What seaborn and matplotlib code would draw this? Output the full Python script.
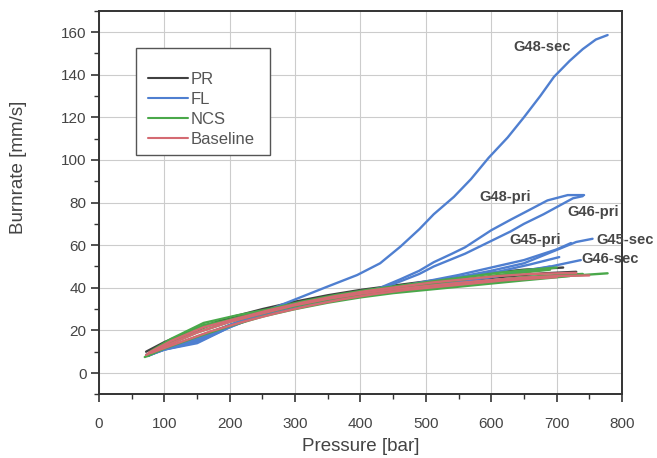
import numpy as np
import pandas as pd
import matplotlib
matplotlib.use("Agg")
import matplotlib.pyplot as plt
from matplotlib.patches import Rectangle
from matplotlib.ticker import MultipleLocator
import seaborn as sns

# ---- data: burn rate [mm/s] versus chamber pressure [bar] ----
groups = ["PR", "FL", "NCS", "Baseline"]
colors = {"PR": "#404040", "FL": "#4f7fd0", "NCS": "#4aa84a", "Baseline": "#d46a72"}

# PR runs
pr_a_p = [72, 100, 150, 200, 250, 300, 350, 400, 450, 500, 550, 600, 650, 710]
pr_a_r = [10, 14.5, 21, 26, 30, 33.5, 36.5, 39, 41, 43, 45, 47, 48.5, 49.5]
pr_b_p = [75, 100, 150, 200, 250, 300, 350, 400, 450, 500, 550, 600, 650, 690]
pr_b_r = [8, 11.5, 17, 22.5, 27, 30.5, 33.5, 36, 38, 40, 41.5, 43, 44.5, 45.5]
pr_c_p = [80, 120, 170, 220, 270, 320, 380, 440, 500, 560, 620, 680, 730]
pr_c_r = [10.5, 16.5, 22.5, 26.5, 30.5, 34, 37, 39.5, 41.8, 43.5, 45.2, 46.8, 47.5]

# FL runs
g48_sec_p = [72, 100, 130, 150, 180, 200, 250, 298, 349, 395, 430, 461, 490, 512, 543,
             569, 596, 625, 650, 675, 696, 720, 740, 760, 778]
g48_sec_r = [8, 11, 13.5, 15, 19, 22, 28.5, 34.3, 40.5, 46, 51.5, 59.3, 67.5, 74.5, 82.7,
             91, 101, 110.5, 120, 130, 139, 146.5, 152, 156.5, 158.6]
g48_pri_p = [72, 100, 150, 200, 250, 300, 350, 400, 430, 461, 490, 512, 540, 560, 600,
             630, 655, 686, 717, 742]
g48_pri_r = [8.5, 11.5, 15.5, 22.5, 28, 31.5, 34.5, 37.5, 40, 44, 48, 52, 56, 59, 67,
             72, 76, 81, 83.5, 83.5]
g46_pri_p = [74, 100, 150, 200, 250, 300, 350, 400, 430, 461, 490, 512, 540, 560, 600,
             630, 650, 680, 707, 725, 740]
g46_pri_r = [8, 11, 14, 21.5, 27.5, 31, 34, 37, 39.5, 43, 46.5, 50, 53.5, 56, 62,
             66.5, 70, 74.5, 79, 82, 83]
g45_pri_p = [75, 100, 150, 200, 250, 300, 350, 400, 450, 500, 550, 600, 650, 700, 722]
g45_pri_r = [8.5, 11.5, 15.5, 22, 28, 31.8, 35, 37.5, 40, 43, 46, 49.5, 53, 58, 61]
g45_sec_p = [73, 100, 150, 200, 250, 300, 350, 400, 450, 500, 550, 600, 650, 706, 730, 755]
g45_sec_r = [8, 11, 14.5, 21.5, 27.5, 31.5, 34.8, 37.5, 39.8, 42, 45, 48, 51.5, 58.5, 61.5, 63]
g46_sec_p = [76, 100, 150, 200, 250, 300, 350, 400, 450, 500, 550, 600, 650, 691, 737]
g46_sec_r = [9, 12, 16, 22.5, 28, 31.5, 34.5, 37, 39, 41, 43, 45, 47.5, 50, 53]
fl_g_p = [78, 110, 160, 210, 260, 310, 360, 410, 460, 510, 560, 610, 660, 704]
fl_g_r = [9, 12.5, 16.5, 23, 28.5, 32, 35, 37.5, 40, 42.5, 45, 47.5, 51, 54.4]
fl_h_p = [80, 110, 160, 210, 260, 310, 360, 410, 460, 510, 560, 610, 650, 690]
fl_h_r = [9.5, 12.5, 17.5, 23.5, 28.5, 32, 35, 37.5, 39.5, 41.5, 43.5, 45.5, 48, 50]

# NCS runs
ncs_a_p = [73, 100, 150, 200, 250, 300, 350, 400, 450, 500, 550, 600, 650, 700, 740, 778]
ncs_a_r = [8.5, 13, 20.5, 25, 28.5, 31.5, 34.5, 36.5, 38.5, 40, 41.5, 43, 44.3, 45.3, 46, 46.8]
ncs_b_p = [78, 110, 160, 210, 260, 310, 360, 410, 460, 510, 560, 610, 660, 700]
ncs_b_r = [10, 16, 23.5, 27, 30, 33.5, 36.5, 39, 41, 43, 45, 47, 48.5, 49.5]
ncs_c_p = [70, 100, 150, 200, 250, 300, 350, 400, 450, 500, 550, 600, 650, 720]
ncs_c_r = [7.5, 11.5, 17, 22, 26.5, 30, 33, 35.5, 37.5, 39, 40.5, 42, 43.5, 45.5]
ncs_d_p = [76, 110, 160, 210, 260, 310, 360, 410, 460, 510, 560, 610, 660, 690]
ncs_d_r = [9, 15, 22.5, 25.5, 29, 32.5, 35.5, 38, 40, 42, 44, 46, 47.5, 48.5]
ncs_e_p = [74, 100, 150, 200, 250, 300, 350, 400, 450, 500, 550, 600, 650, 700, 740]
ncs_e_r = [8, 12.5, 19, 24, 28, 31.5, 34.5, 37, 39, 40.5, 42, 43.5, 45, 46, 46.5]

# Baseline runs
base_a_p = [72, 100, 150, 200, 250, 300, 350, 400, 450, 500, 550, 600, 650, 700, 750]
base_a_r = [8.5, 12.5, 19, 24, 28, 31.8, 34.8, 37.2, 39.2, 40.8, 42.3, 43.6, 44.8, 45.5, 45.8]
base_b_p = [76, 110, 160, 210, 260, 310, 360, 410, 460, 510, 560, 610, 660, 730]
base_b_r = [9.5, 15, 21.5, 25.5, 29.5, 33, 36, 38.5, 40.5, 42.5, 44, 45.5, 46.5, 47]
base_c_p = [80, 120, 170, 220, 270, 320, 370, 420, 470, 520, 570, 620, 700]
base_c_r = [9.5, 14, 19.5, 24, 28, 31.5, 34.5, 37, 39, 40.5, 42, 43.5, 45]

# curve annotations: text, x, y
labels = [
    ("G48-sec", 678, 153),
    ("G48-pri", 621, 82.4),
    ("G46-pri", 756, 75.5),
    ("G45-pri", 667, 62.4),
    ("G45-sec", 805, 62.4),
    ("G46-sec", 782, 53.5),
]

runs = [
    ("PR", "PR-a", pr_a_p, pr_a_r), ("PR", "PR-b", pr_b_p, pr_b_r), ("PR", "PR-c", pr_c_p, pr_c_r),
    ("FL", "G48-sec", g48_sec_p, g48_sec_r), ("FL", "G48-pri", g48_pri_p, g48_pri_r),
    ("FL", "G46-pri", g46_pri_p, g46_pri_r), ("FL", "G45-pri", g45_pri_p, g45_pri_r),
    ("FL", "G45-sec", g45_sec_p, g45_sec_r), ("FL", "G46-sec", g46_sec_p, g46_sec_r),
    ("FL", "FL-g", fl_g_p, fl_g_r), ("FL", "FL-h", fl_h_p, fl_h_r),
    ("NCS", "NCS-a", ncs_a_p, ncs_a_r), ("NCS", "NCS-b", ncs_b_p, ncs_b_r),
    ("NCS", "NCS-c", ncs_c_p, ncs_c_r), ("NCS", "NCS-d", ncs_d_p, ncs_d_r),
    ("NCS", "NCS-e", ncs_e_p, ncs_e_r),
    ("Baseline", "Base-a", base_a_p, base_a_r), ("Baseline", "Base-b", base_b_p, base_b_r),
    ("Baseline", "Base-c", base_c_p, base_c_r),
]

frames = []
for grp, run, p, r in runs:
    frames.append(pd.DataFrame({"pressure": p, "burnrate": r, "group": grp, "run": run}))
df = pd.concat(frames, ignore_index=True)

# ---- figure ----
sns.set_style("ticks")
plt.rcParams["font.family"] = ["Liberation Sans", "DejaVu Sans"]

fig = plt.figure(figsize=(6.57, 4.58), dpi=100)
ax = fig.add_axes([0.1507, 0.139, 0.796, 0.8375])

sns.lineplot(data=df, x="pressure", y="burnrate", hue="group", units="run",
             estimator=None, sort=False, hue_order=groups, palette=colors,
             linewidth=1.7, ax=ax)

ax.set_xlim(0, 800)
ax.set_ylim(-10, 170)
ax.xaxis.set_major_locator(MultipleLocator(100))
ax.xaxis.set_minor_locator(MultipleLocator(50))
ax.yaxis.set_major_locator(MultipleLocator(20))
ax.yaxis.set_minor_locator(MultipleLocator(10))
ax.set_yticks(np.arange(0, 161, 20))

ax.grid(True, which="major", color="#cccccc", linewidth=0.8)
ax.set_axisbelow(True)
for s in ax.spines.values():
    s.set_visible(True)
    s.set_color("#333333")
    s.set_linewidth(1.4)

ax.tick_params(axis="both", which="major", direction="out", length=6, width=1.2,
               color="#333333", labelsize=11, labelcolor="#444444",
               bottom=True, left=True, top=False, right=False)
ax.tick_params(axis="both", which="minor", direction="out", length=3.5, width=1.0,
               color="#333333", bottom=True, left=True, top=False, right=False)
ax.tick_params(axis="x", which="major", pad=10)
ax.tick_params(axis="y", which="major", pad=3)

ax.set_xlabel("Pressure [bar]", fontsize=13.5, color="#444444")
ax.set_ylabel("Burnrate [mm/s]", fontsize=13.5, color="#444444")
ax.xaxis.set_label_coords(0.5, -0.115)
ax.yaxis.set_label_coords(-0.138, 0.593)

for txt, x, y in labels:
    ax.text(x, y, txt, fontsize=10.5, fontweight="bold", color="#474747",
            ha="center", va="center", clip_on=False, zorder=5)

# legend inside a plain box
ax.add_patch(Rectangle((0.0707, 0.624), 0.256, 0.279, transform=ax.transAxes,
                       facecolor="white", edgecolor="#555555", linewidth=1.0, zorder=4))
handles, lbls = ax.get_legend_handles_labels()
leg = ax.legend(handles, lbls, loc="upper left", bbox_to_anchor=(0.093, 0.84),
                frameon=False, fontsize=12, handlelength=2.4, handletextpad=0.2,
                labelspacing=0.3, borderpad=0, borderaxespad=0)
leg.set_zorder(6)
for t in leg.get_texts():
    t.set_color("#555555")
for h in leg.get_lines():
    h.set_linewidth(1.5)

fig.savefig("out.png", dpi=100, facecolor="white")
